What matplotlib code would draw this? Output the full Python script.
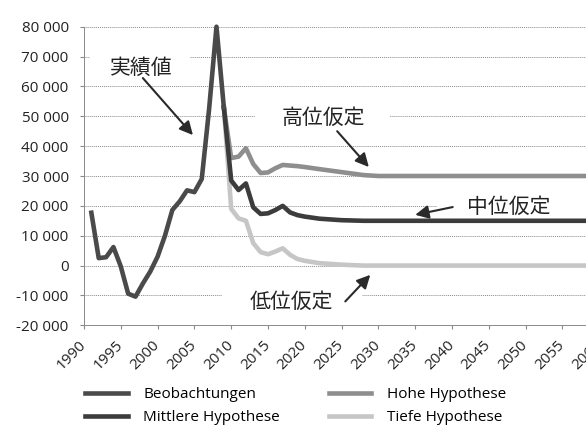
import matplotlib
matplotlib.use("Agg")
import matplotlib.pyplot as plt
from matplotlib.patches import Rectangle
from matplotlib.ticker import FuncFormatter, MultipleLocator

plt.rcParams['font.family'] = ['Open Sans', 'Noto Sans CJK JP', 'DejaVu Sans']

# observed net values
obs_years = list(range(1991, 2010))
obs_values = [17700, 2500, 2800, 6200, -300, -9400, -10400, -6000, -2000, 3000,
              10000, 18600, 21500, 25200, 24600, 29000, 52500, 80000, 53000]

# scenarios, starting from the last observed year
proj_years = [2009, 2010, 2011, 2012, 2013, 2014, 2015, 2016, 2017, 2018,
              2019, 2020, 2022, 2025, 2028, 2030, 2060]
high_values = [53000, 36000, 36500, 39300, 34000, 31000, 31200, 32600, 33700, 33500,
               33300, 33000, 32300, 31300, 30300, 30000, 30000]
mid_values = [53000, 28500, 25300, 27500, 19500, 17300, 17500, 18600, 20000, 17800,
              16900, 16400, 15700, 15200, 15000, 15000, 15000]
low_values = [53000, 19000, 15800, 15000, 7500, 4500, 3800, 4700, 5800, 3600,
              2200, 1600, 800, 300, 0, 0, 0]

series_labels = ['Beobachtungen', 'Hohe Hypothese', 'Mittlere Hypothese', 'Tiefe Hypothese']
series_colors = ['#4a4a4a', '#8e8e8e', '#3c3c3c', '#c6c6c6']

fig = plt.figure(figsize=(5.86, 4.32), dpi=100)
ax = fig.add_axes([84 / 586, 1 - 325.3 / 432, 515.2 / 586, 298.6 / 432])

lw = 3.3
l_obs, = ax.plot(obs_years, obs_values, color=series_colors[0], lw=lw, zorder=4,
                 clip_on=False, label=series_labels[0])
l_low, = ax.plot(proj_years, low_values, color=series_colors[3], lw=lw, zorder=3,
                 label=series_labels[3])
l_high, = ax.plot(proj_years, high_values, color=series_colors[1], lw=lw, zorder=3,
                  label=series_labels[1])
l_mid, = ax.plot(proj_years, mid_values, color=series_colors[2], lw=lw, zorder=3.5,
                 label=series_labels[2])

ax.set_xlim(1990, 2060)
ax.set_ylim(-20000, 80000)
ax.xaxis.set_major_locator(MultipleLocator(5))
ax.yaxis.set_major_locator(MultipleLocator(10000))
ax.yaxis.set_major_formatter(FuncFormatter(lambda v, p: f"{int(v):,}".replace(",", " ")))

ax.set_axisbelow(True)
ax.grid(axis='y', color='#8a8a8a', ls=(0, (1, 1)), lw=0.7)
for s in ['top', 'right']:
    ax.spines[s].set_visible(False)
for s in ['left', 'bottom']:
    ax.spines[s].set_color('#8a8a8a')
    ax.spines[s].set_linestyle((0, (1, 1)))
    ax.spines[s].set_linewidth(0.7)

ax.tick_params(axis='both', colors='#8a8a8a', labelcolor='#222222', labelsize=11, length=3)
ax.tick_params(axis='y', pad=8)
for t in ax.get_xticklabels():
    t.set_rotation(45)
    t.set_ha('right')
    t.set_va('center')
    t.set_rotation_mode('anchor')
ax.tick_params(axis='x', pad=10)


def label(text, pos, tail, head, box):
    # white box hides the grid behind the label
    (x0, x1), (y0, y1) = box
    ax.add_patch(Rectangle((x0, y0), x1 - x0, y1 - y0, facecolor='white',
                           edgecolor='none', zorder=1, clip_on=False))
    ax.text(pos[0], pos[1], text, fontsize=15, family=['Noto Sans CJK JP', 'DejaVu Sans'],
            ha='center', va='center', color='#222222', zorder=5)
    ax.annotate('', xy=head, xytext=tail, zorder=5,
                arrowprops=dict(arrowstyle='-|>', mutation_scale=20, lw=1.5,
                                color='#2a2a2a', shrinkA=0, shrinkB=0))


label('実績値', (1997.8, 66300), (1998.0, 62800), (2004.8, 43700),
      ((1990.8, 2004.4), (61500, 72000)))
label('高位仮定', (2022.5, 49600), (2024.4, 45000), (2028.7, 33000),
      ((2013.2, 2031.6), (45500, 54000)))
label('中位仮定', (2047.7, 19800), (2040.1, 19600), (2035.0, 17000),
      ((2038.0, 2062.0), (17500, 23500)))
label('低位仮定', (2018.2, -12300), (2025.5, -12000), (2028.9, -3100),
      ((2008.75, 2027.8), (-15500, -7500)))

fig.legend(handles=[l_obs, l_mid, l_high, l_low], ncol=2, frameon=False,
           loc='upper left', bbox_to_anchor=(85 / 586, 1 - 387 / 432),
           borderpad=0, borderaxespad=0, fontsize=11, handlelength=2.8,
           handletextpad=1.0, columnspacing=3.2, labelspacing=0.55)

fig.savefig('out.png', dpi=100)
